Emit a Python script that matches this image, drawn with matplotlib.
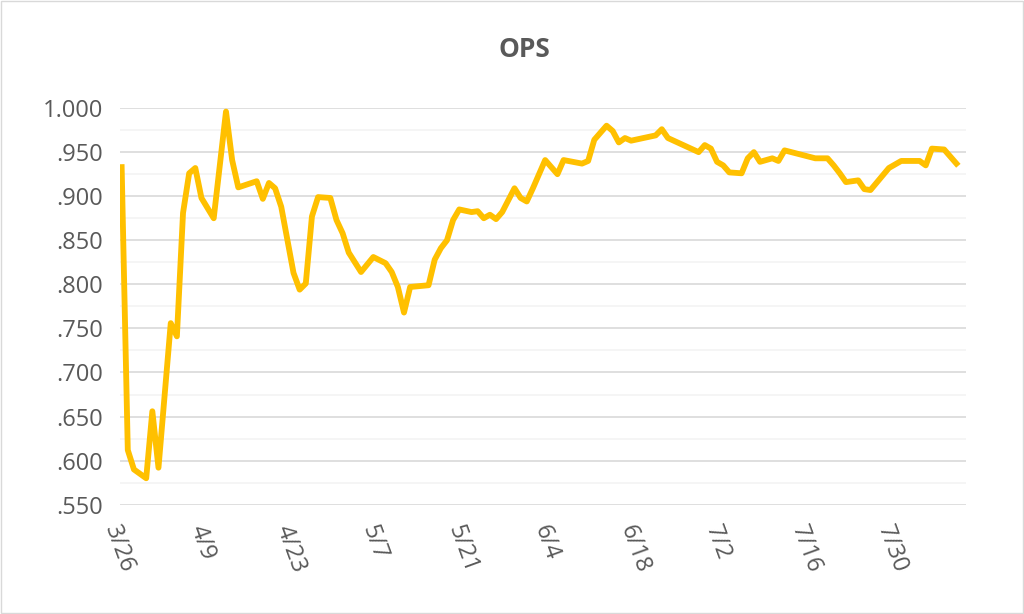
import numpy as np
import matplotlib
matplotlib.use("Agg")
import matplotlib.pyplot as plt
import matplotlib.ticker as ticker
import datetime as dt

# day offset from 3/26 and OPS value
days = [0, 1, 2, 4, 5, 6, 8, 9, 10, 11, 12, 13, 15, 17, 18, 19, 22, 23, 24, 25, 26,
        28, 29, 30, 31, 32, 34, 35, 36, 37, 39, 41, 43, 44, 45, 46, 47, 50, 51, 52,
        53, 54, 55, 57, 58, 59, 60, 61, 62, 64, 65, 66, 67, 69, 71, 72, 75, 76, 77,
        79, 80, 81, 82, 83, 87, 88, 89, 94, 95, 96, 97, 98, 99, 101, 102, 103, 104,
        106, 107, 108, 113, 115, 116, 117, 118, 120, 121, 122, 125, 127, 130, 131,
        132, 134, 136]
ops = [.933, .612, .590, .580, .656, .592, .756, .741, .881, .926, .932, .898, .875,
       .996, .941, .910, .917, .897, .915, .909, .888, .813, .794, .801, .877, .899,
       .898, .873, .858, .836, .814, .831, .824, .814, .797, .768, .797, .799, .828,
       .841, .850, .873, .885, .882, .883, .875, .879, .874, .882, .909, .898, .894,
       .909, .941, .925, .941, .937, .940, .964, .980, .974, .961, .966, .963, .969,
       .976, .966, .950, .958, .954, .939, .935, .927, .926, .943, .950, .939, .943,
       .940, .952, .943, .943, .935, .926, .916, .918, .908, .907, .932, .940, .940,
       .935, .954, .953, .937]

start = dt.date(2018, 3, 26)
tick_days = list(range(0, 127, 14))
tick_labels = [f"{(start + dt.timedelta(d)).month}/{(start + dt.timedelta(d)).day}" for d in tick_days]

plt.rcParams['font.family'] = ['Open Sans', 'DejaVu Sans']
grey = '#595959'

fig = plt.figure(figsize=(10.24, 6.14), dpi=100)
ax = fig.add_axes([0.117, 0.178, 0.826, 0.646])
ax.plot(days, ops, color='#FFC000', lw=4.2, solid_joinstyle='round')

ax.set_ylim(0.55, 1.0)
ax.set_xlim(-0.3, 137.5)
ax.yaxis.set_major_locator(ticker.MultipleLocator(0.05))
ax.yaxis.set_minor_locator(ticker.MultipleLocator(0.025))
ax.yaxis.set_major_formatter(ticker.FuncFormatter(lambda v, p: f"{v:.3f}".lstrip('0')))
ax.grid(axis='y', which='major', color='#D9D9D9', lw=1.2)
ax.grid(axis='y', which='minor', color='#F4F4F4', lw=1.2)
ax.set_axisbelow(True)
ax.set_xticks(tick_days)
ax.set_xticklabels(tick_labels, rotation=-70, ha='left', rotation_mode='anchor')
ax.tick_params(axis='both', which='both', length=0, colors=grey, labelsize=17)
ax.tick_params(axis='y', pad=12)
ax.tick_params(axis='x', pad=12)
for s in ax.spines.values():
    s.set_visible(False)

fig.text(0.512, 0.92, "OPS", ha='center', va='center', fontsize=19, fontweight='bold', color=grey)
fig.patches.append(plt.Rectangle((0.001, 0.001), 0.998, 0.998, transform=fig.transFigure,
                                 fill=False, edgecolor='#D9D9D9', lw=1))

fig.savefig("out.png", dpi=100)
